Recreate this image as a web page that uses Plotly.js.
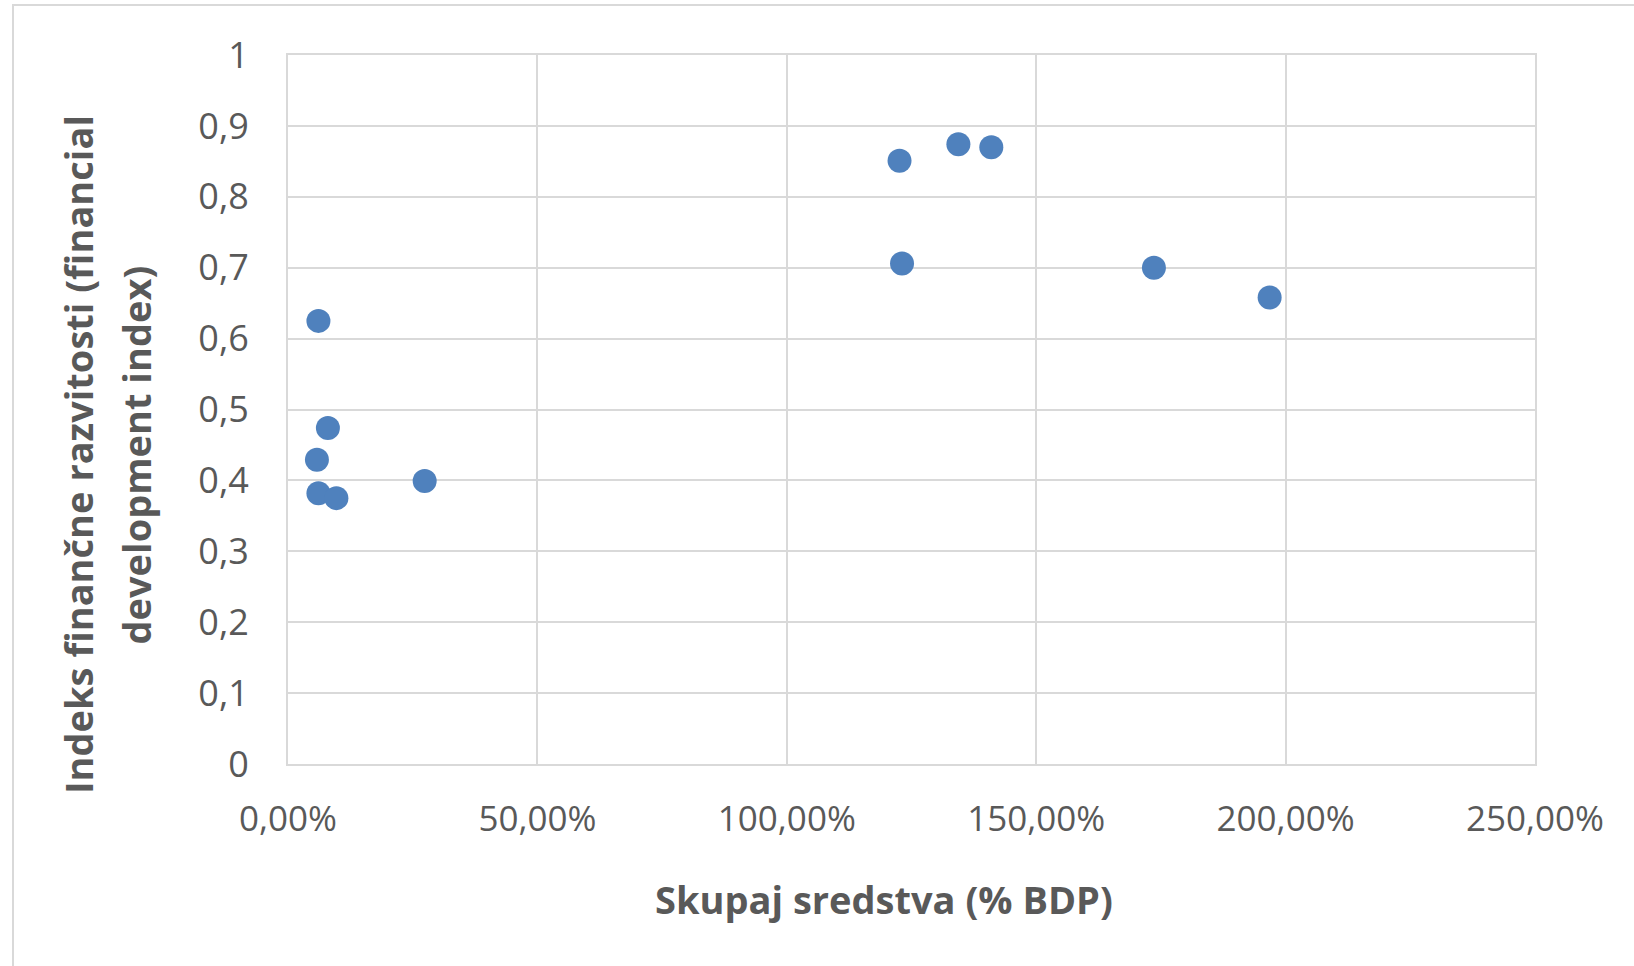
<!DOCTYPE html>
<html>
<head>
<meta charset="utf-8">
<script src="https://cdn.plot.ly/plotly-3.0.1.min.js"></script>
<style>
html,body{margin:0;padding:0;background:#fff;}
#chart{width:1634px;height:966px;}
</style>
</head>
<body>
<div id="chart"></div>
<script>
// Skupaj sredstva (% BDP) as fractions, and financial development index
const assetsShare = [0.061, 0.080, 0.058, 0.061, 0.097, 0.274, 1.226, 1.231, 1.344, 1.410, 1.736, 1.968];
const fdIndex     = [0.625, 0.474, 0.429, 0.382, 0.375, 0.399, 0.851, 0.706, 0.874, 0.870, 0.700, 0.658];

const xTitle = "Skupaj sredstva (% BDP)";
const yTitleLine1 = "Indeks finančne razvitosti (financial";
const yTitleLine2 = "development index)";
const yTickVals = [0, 0.1, 0.2, 0.3, 0.4, 0.5, 0.6, 0.7, 0.8, 0.9, 1];
const yTickText = ["0", "0,1", "0,2", "0,3", "0,4", "0,5", "0,6", "0,7", "0,8", "0,9", "1"];
const xTickVals = [0, 0.5, 1, 1.5, 2, 2.5];
const xTickText = ["0,00%", "50,00%", "100,00%", "150,00%", "200,00%", "250,00%"];

const fontFam = "'Open Sans', 'Noto Sans', sans-serif";
const gray = "#595959";
const gridCol = "#d9d9d9";

const L = 288, R = 99, T = 55, B = 202;
const PW = 1634 - L - R, PH = 966 - T - B;
const px = v => (v - L) / PW;
const py = v => (966 - B - v) / PH;

const trace = {
  type: "scatter",
  mode: "markers",
  x: assetsShare,
  y: fdIndex,
  marker: {color: "#4f81bd", size: 24},
  showlegend: false,
  hoverinfo: "x+y"
};

const titleFont = {family: fontFam, size: 38, color: gray, weight: "bold"};

const layout = {
  width: 1634,
  height: 966,
  paper_bgcolor: "#ffffff",
  plot_bgcolor: "#ffffff",
  margin: {l: L, r: R, t: T, b: B},
  separators: ",.",
  font: {family: fontFam, color: gray},
  xaxis: {
    range: [0, 2.5],
    tickvals: xTickVals,
    ticktext: xTickText,
    showgrid: true,
    gridcolor: gridCol,
    gridwidth: 2,
    zeroline: false,
    showline: true,
    linecolor: gridCol,
    linewidth: 2,
    mirror: true,
    ticks: "",
    ticklabelstandoff: 23,
    tickfont: {family: fontFam, size: 35, color: gray},
    fixedrange: true
  },
  yaxis: {
    range: [0, 1],
    tickvals: yTickVals,
    ticktext: yTickText,
    showgrid: true,
    gridcolor: gridCol,
    gridwidth: 2,
    zeroline: false,
    showline: true,
    linecolor: gridCol,
    linewidth: 2,
    mirror: true,
    ticks: "",
    ticklabelstandoff: 30,
    tickfont: {family: fontFam, size: 36, color: gray},
    fixedrange: true
  },
  annotations: [
    {text: xTitle, xref: "paper", yref: "paper", x: px(884), y: py(899),
     xanchor: "center", yanchor: "middle", showarrow: false, font: titleFont},
    {text: yTitleLine1, xref: "paper", yref: "paper", x: px(78), y: py(455),
     xanchor: "center", yanchor: "middle", textangle: -90, showarrow: false, font: titleFont},
    {text: yTitleLine2, xref: "paper", yref: "paper", x: px(135.5), y: py(455),
     xanchor: "center", yanchor: "middle", textangle: -90, showarrow: false, font: titleFont}
  ],
  shapes: [{
    type: "rect",
    xref: "paper", yref: "paper",
    x0: px(13), x1: px(1660),
    y0: py(1000), y1: py(5),
    line: {color: "#d9d9d9", width: 2},
    fillcolor: "rgba(0,0,0,0)",
    layer: "below"
  }]
};

Plotly.newPlot("chart", [trace], layout, {displayModeBar: false, staticPlot: true});
</script>
</body>
</html>
